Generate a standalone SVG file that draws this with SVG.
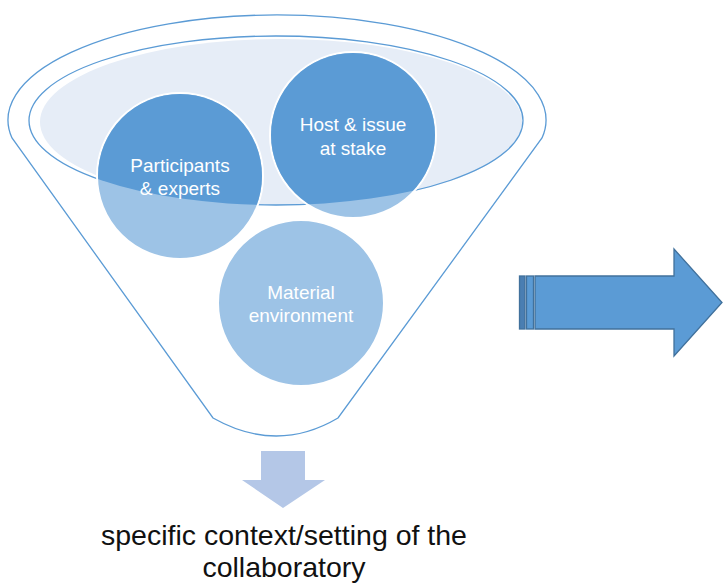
<svg xmlns="http://www.w3.org/2000/svg" width="723" height="585" viewBox="0 0 723 585">
  <style>
    .line { fill: none; stroke: #5B9BD5; stroke-width: 1.3; }
    .circ { fill: #9DC3E6; stroke: #FFFFFF; stroke-width: 2; }
    .dark { fill: #5B9BD5; }
    .lbl { font-family: "Liberation Sans", Arial, sans-serif; font-size: 19px; fill: #FFFFFF; text-anchor: middle; }
    .cap { font-family: "Liberation Sans", Arial, sans-serif; font-size: 28.5px; fill: #111111; text-anchor: middle; }
  </style>
  <defs>
    <clipPath id="ringClip">
      <ellipse cx="276" cy="120.5" rx="247" ry="84.5"/>
    </clipPath>
  </defs>
  <rect width="723" height="585" fill="#FFFFFF"/>

  <g id="funnel">
    <path class="line" d="M12,138 A269,105 0 1 1 542,138 L338,418 Q277,454 213,418 Z"/>
    <ellipse cx="281" cy="122" rx="241" ry="83" fill="#E6EDF7"/>
    <ellipse class="line" cx="276" cy="120.5" rx="247" ry="84.5"/>
  </g>

  <g id="participants">
    <circle class="circ" cx="180" cy="176" r="83"/>
    <circle class="dark" cx="180" cy="176" r="82" clip-path="url(#ringClip)"/>
    <text class="lbl" x="180" y="172">Participants</text>
    <text class="lbl" x="180" y="195">&amp; experts</text>
  </g>

  <g id="host">
    <circle class="circ" cx="353" cy="135" r="83"/>
    <circle class="dark" cx="353" cy="135" r="82" clip-path="url(#ringClip)"/>
    <text class="lbl" x="353" y="131">Host &amp; issue</text>
    <text class="lbl" x="353" y="155">at stake</text>
  </g>

  <g id="material">
    <circle class="circ" cx="301" cy="303" r="83"/>
    <text class="lbl" x="301" y="299">Material</text>
    <text class="lbl" x="301" y="322">environment</text>
  </g>

  <g id="connectors">
    <g id="arrow-right" stroke="#41719C" stroke-width="1.3">
      <rect x="519.5" y="276" width="5.5" height="53" fill="#4A7EB2"/>
      <rect x="526.5" y="276" width="7" height="53" fill="#5B9BD5"/>
      <path d="M535,276 L674,276 L674,249 L722,302.5 L674,356 L674,329 L535,329 Z" fill="#5B9BD5"/>
    </g>
    <path id="arrow-down" d="M261,451 L305,451 L305,480 L325,480 L283,508 L242,480 L261,480 Z" fill="#B4C7E7"/>
  </g>

  <g id="caption">
    <text class="cap" x="284" y="545">specific context/setting of the</text>
    <text class="cap" x="284" y="577">collaboratory</text>
  </g>
</svg>
